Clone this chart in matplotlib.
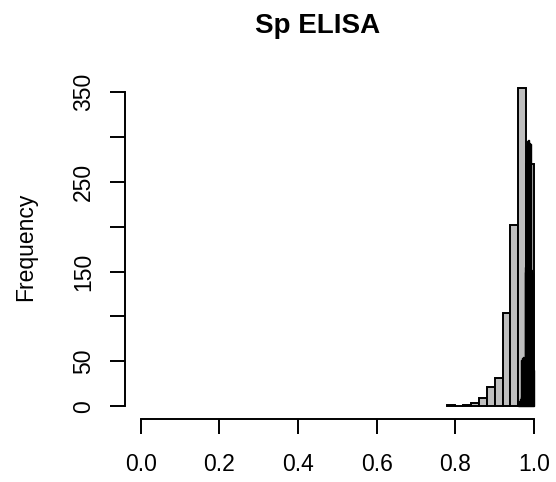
import numpy as np
import matplotlib
matplotlib.use('Agg')
import matplotlib.pyplot as plt

plt.rcParams['font.family'] = ['Liberation Sans', 'DejaVu Sans']

# coarse histogram (grey), bin width 0.02
gray_breaks = [0.78, 0.80, 0.82, 0.84, 0.86, 0.88, 0.90, 0.92, 0.94, 0.96, 0.98, 1.00]
gray_counts = [1, 0, 1, 4, 9, 21, 32, 104, 202, 354, 270]

# fine histogram (black), bin width 0.002
fine_breaks = [0.960, 0.962, 0.964, 0.966, 0.968, 0.970, 0.972, 0.974, 0.976, 0.978,
               0.980, 0.982, 0.984, 0.986, 0.988, 0.990, 0.992, 0.994, 0.996, 0.998, 1.000]
fine_counts = [3, 6, 8, 10, 52, 54, 55, 53, 150, 155,
               290, 296, 295, 297, 293, 292, 152, 150, 148, 40]

x_ticks = [0.0, 0.2, 0.4, 0.6, 0.8, 1.0]
x_labels = ['0.0', '0.2', '0.4', '0.6', '0.8', '1.0']
y_ticks = [0, 50, 100, 150, 200, 250, 300, 350]
y_labels = ['0', '50', '', '150', '', '250', '', '350']

W, H = 556, 482
fig = plt.figure(figsize=(W / 100, H / 100), dpi=100)
# plot region in pixels: left 125, right 549.7, top 74.8, bottom 419
ax = fig.add_axes([125 / W, 1 - 419 / H, (549.7 - 125) / W, (419 - 74.8) / H])

lw = 1.4
g_left = np.array(gray_breaks[:-1])
g_w = np.diff(gray_breaks)
ax.bar(g_left, gray_counts, width=g_w, align='edge', color='#bebebe',
       edgecolor='black', linewidth=lw)

f_left = np.array(fine_breaks[:-1])
f_w = np.diff(fine_breaks)
ax.bar(f_left, fine_counts, width=f_w, align='edge', color='#3a0000',
       edgecolor='black', linewidth=1.0)

ax.set_xlim(-0.04, 1.04)
ax.set_ylim(-14.2, 369.2)

for s in ['top', 'right']:
    ax.spines[s].set_visible(False)
ax.spines['left'].set_bounds(0, 350)
ax.spines['bottom'].set_bounds(0, 1)
for s in ['left', 'bottom']:
    ax.spines[s].set_linewidth(lw)

ax.set_xticks(x_ticks)
ax.set_xticklabels(x_labels)
ax.set_yticks(y_ticks)
ax.set_yticklabels(y_labels, rotation=90, va='center')
ax.tick_params(axis='both', direction='out', length=10.5, width=lw, labelsize=16.5)
ax.tick_params(axis='x', pad=14)
ax.tick_params(axis='y', pad=11)

fig.text(318 / W, 1 - 33 / H, 'Sp ELISA', ha='center', va='baseline',
         fontsize=20, fontweight='bold')
fig.text(26 / W, 1 - 247 / H, 'Frequency', ha='center', va='center',
         rotation=90, fontsize=16.5)

fig.savefig('out.png', dpi=100)
